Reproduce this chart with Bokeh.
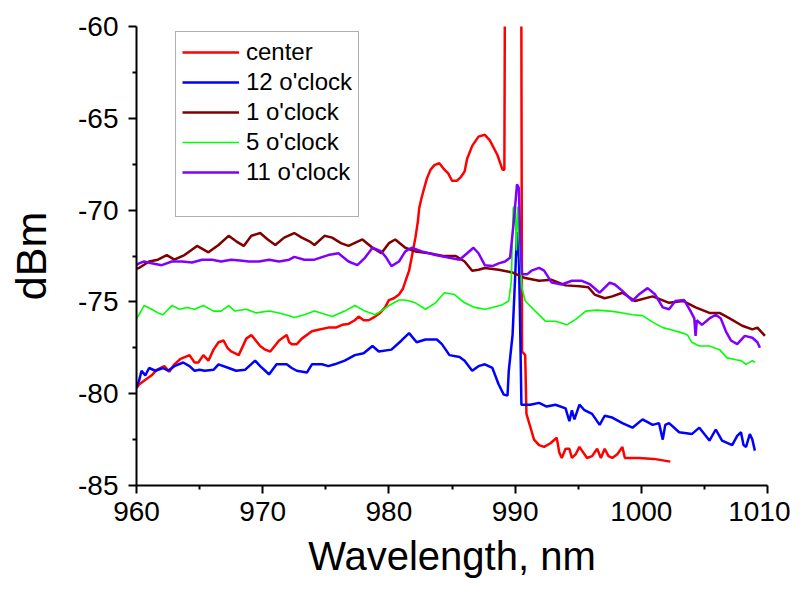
from bokeh.plotting import figure
from bokeh.models import Range1d, Legend, LegendItem, FixedTicker, PrintfTickFormatter
from bokeh.embed import file_html
from bokeh.resources import INLINE

# ---------------- data ----------------
center_x = [960.0, 960.2, 960.6, 961.2, 961.6, 962.2, 962.6, 963.0, 963.5, 964.2, 964.6, 964.9,
            965.3, 965.7, 966.1, 966.5, 966.9, 967.2, 967.5, 968.1, 968.7, 969.1, 969.8, 970.2,
            970.6, 971.3, 971.9, 972.1, 972.3, 972.7, 973.1, 973.9, 974.5, 975.2, 975.8, 976.3,
            976.8, 977.3, 977.6, 978.0, 978.4, 978.9, 979.3, 979.7, 980.0, 980.4, 980.8, 981.1,
            981.3, 981.6, 981.8, 982.1, 982.3, 982.4, 982.6, 983.0, 983.3, 983.6, 984.0, 984.4,
            984.7, 985.0, 985.4, 985.7, 986.0, 986.2, 986.6, 987.1, 987.6, 988.0, 988.6, 989.0,
            989.15, 989.25, 990.45, 990.55, 990.8, 990.9, 991.2, 991.5, 991.9, 992.3, 992.8, 993.3,
            993.5, 993.7, 994.0, 994.3, 994.5, 994.8, 995.1, 995.3, 995.7, 996.1, 996.5, 996.8,
            997.1, 997.4, 997.7, 998.1, 998.5, 998.7, 999.8, 1001.0, 1002.3]
center_y = [-79.7, -79.5, -79.3, -79.0, -78.7, -78.5, -78.8, -78.4, -78.1, -77.9, -78.3, -78.3,
            -77.9, -78.2, -77.6, -77.2, -77.1, -77.5, -77.7, -77.9, -77.0, -76.8, -77.4, -77.6,
            -77.7, -77.1, -76.8, -77.2, -77.3, -77.3, -77.0, -76.6, -76.5, -76.4, -76.4, -76.25,
            -76.2, -76.0, -75.8, -76.0, -76.0, -75.8, -75.6, -75.3, -74.9, -74.8, -74.6, -74.3,
            -73.9, -73.3, -72.6, -71.5, -70.6, -69.9, -69.3, -68.3, -67.8, -67.55, -67.45, -67.8,
            -68.0, -68.4, -68.4, -68.2, -67.9, -67.2, -66.5, -66.0, -65.9, -66.2, -67.0, -67.8,
            -67.8, -45.0, -45.0, -77.7, -77.9, -81.1, -81.8, -82.5, -82.8, -82.9, -82.7, -82.4,
            -83.2, -83.5, -83.0, -83.0, -83.5, -83.3, -82.9, -83.1, -83.5, -83.4, -83.0, -83.5,
            -83.0, -83.4, -83.5, -83.3, -82.9, -83.5, -83.5, -83.55, -83.7]

blue_x = [960.0, 960.2, 960.4, 960.7, 961.0, 961.5, 962.1, 962.5, 963.0, 963.7, 964.2, 964.6,
          965.0, 965.4, 966.1, 966.5, 967.3, 967.9, 968.6, 969.4, 969.8, 970.2, 970.5, 971.1,
          971.9, 972.3, 972.7, 973.5, 973.9, 974.7, 975.2, 975.7, 976.5, 977.3, 978.0, 978.7,
          979.2, 980.2, 981.0, 981.6, 982.2, 982.9, 983.8, 984.2, 984.8, 985.6, 986.0, 986.6,
          987.1, 987.6, 988.2, 988.7, 989.1, 989.4, 989.5, 989.8, 990.0, 990.15, 990.3, 990.4,
          990.5, 991.2, 991.9, 992.5, 993.2, 994.0, 994.3, 994.5, 994.7, 995.1, 995.5, 996.1,
          996.7, 997.1, 997.7, 998.5, 999.3, 1000.1, 1000.9, 1001.4, 1001.7, 1001.9, 1002.2, 1003.0,
          1004.0, 1004.6, 1005.4, 1005.9, 1006.4, 1007.2, 1007.6, 1007.9, 1008.1, 1008.3, 1008.6,
          1008.8, 1009.0]
blue_y = [-79.6, -79.3, -78.75, -79.0, -78.6, -78.75, -78.6, -78.75, -78.5, -78.3, -78.5, -78.75,
          -78.7, -78.75, -78.7, -78.4, -78.6, -78.75, -78.7, -78.2, -78.5, -78.75, -78.95, -78.4,
          -78.4, -78.6, -78.75, -78.85, -78.4, -78.4, -78.5, -78.4, -78.2, -77.9, -77.8, -77.4,
          -77.7, -77.6, -77.1, -76.7, -77.2, -77.05, -77.05, -77.3, -77.9, -78.0, -78.2, -78.75,
          -78.5, -78.4, -78.6, -79.5, -80.05, -80.1, -78.75, -76.8, -73.7, -71.2, -72.6, -76.25,
          -80.6, -80.6, -80.5, -80.7, -80.6, -80.8, -81.5, -80.9, -81.4, -80.6, -80.9, -81.1,
          -81.7, -81.2, -81.3, -81.6, -81.85, -81.4, -81.7, -81.6, -82.5, -81.7, -81.6, -82.1,
          -82.2, -81.85, -82.55, -81.95, -82.55, -82.8, -82.3, -82.1, -82.8, -82.9, -82.2,
          -82.5, -83.1]

brown_x = [960.0, 960.2, 961.0, 961.7, 962.4, 963.0, 963.8, 964.8, 965.7, 966.5, 967.3, 967.9,
           968.5, 969.1, 969.8, 970.4, 971.0, 971.7, 972.5, 973.1, 973.7, 974.1, 974.9, 975.5,
           976.2, 976.8, 977.9, 978.7, 979.4, 980.0, 980.5, 981.3, 982.1, 983.2, 984.3, 985.3,
           986.0, 986.6, 987.1, 987.6, 988.7, 989.8, 990.8, 991.9, 992.9, 994.0, 995.1, 995.8,
           996.3, 997.1, 997.7, 998.5, 999.5, 1000.9, 1002.2, 1003.3, 1004.3, 1005.4, 1006.2,
           1007.0, 1008.0, 1008.8, 1009.2, 1009.8]
brown_y = [-73.2, -73.15, -72.8, -72.7, -72.45, -72.7, -72.45, -71.95, -72.3, -71.9, -71.4, -71.7,
           -71.95, -71.4, -71.25, -71.6, -71.9, -71.5, -71.25, -71.5, -71.7, -71.9, -71.4, -71.5,
           -71.8, -71.95, -71.6, -72.05, -72.35, -71.8, -71.6, -72.05, -72.25, -72.35, -72.5, -72.5,
           -72.8, -73.3, -73.25, -73.15, -73.25, -73.4, -73.7, -73.85, -73.8, -74.1, -74.15, -74.2,
           -74.6, -74.8, -74.7, -74.5, -74.95, -74.7, -75.05, -74.95, -75.3, -75.6, -75.6,
           -75.9, -76.3, -76.5, -76.4, -76.85]

green_x = [960.0, 960.2, 960.6, 961.2, 961.7, 962.1, 962.8, 963.4, 964.0, 964.6, 965.3, 966.1,
           966.7, 967.3, 967.8, 968.7, 969.5, 970.5, 971.3, 972.1, 972.5, 973.3, 974.1, 975.5,
           976.5, 977.3, 978.1, 978.9, 979.6, 980.0, 980.8, 981.3, 982.1, 982.9, 983.7, 984.4,
           985.2, 986.0, 986.8, 987.6, 988.2, 989.0, 989.5, 989.7, 989.85, 990.0, 990.1, 990.2,
           990.35, 990.55, 990.8, 991.6, 992.4, 993.2, 994.1, 994.8, 995.6, 996.5, 997.5, 998.5,
           999.3, 1000.1, 1000.9, 1001.7, 1002.3, 1003.3, 1003.65, 1004.0, 1004.6, 1005.4, 1006.2,
           1006.8, 1007.5, 1007.9, 1008.3, 1008.8, 1009.0]
green_y = [-75.9, -75.7, -75.2, -75.4, -75.6, -75.7, -75.2, -75.4, -75.3, -75.4, -75.2, -75.5,
           -75.5, -75.2, -75.5, -75.4, -75.6, -75.5, -75.6, -75.75, -75.85, -75.7, -75.5, -75.8,
           -75.5, -75.2, -75.5, -75.7, -75.4, -75.2, -74.9, -74.9, -75.05, -75.4, -75.05, -74.5,
           -74.6, -75.05, -75.3, -75.4, -75.3, -75.15, -74.95, -73.85, -69.9, -69.7, -72.2, -69.8,
           -72.0, -74.25, -74.95, -75.5, -76.05, -76.05, -76.25, -75.95, -75.5, -75.45, -75.5, -75.6,
           -75.7, -75.75, -76.1, -76.4, -76.5, -76.7, -76.8, -77.2, -77.4, -77.4, -77.6,
           -78.05, -78.15, -78.2, -78.4, -78.2, -78.3]

purple_x = [960.0, 960.2, 960.6, 961.2, 962.0, 962.8, 963.6, 964.4, 965.2, 966.0, 966.7, 967.5,
            968.2, 968.9, 969.7, 970.5, 971.3, 972.1, 972.5, 973.3, 974.1, 975.2, 976.0, 976.8,
            977.5, 978.1, 978.7, 979.4, 979.8, 980.2, 980.8, 981.3, 981.8, 982.6, 983.7, 984.8,
            985.6, 986.2, 986.7, 987.1, 987.6, 988.2, 988.7, 989.2, 989.6, 989.9, 990.15, 990.3,
            990.4, 990.55, 990.95, 991.3, 991.9, 992.3, 992.9, 993.7, 994.5, 995.3, 995.95, 996.7,
            997.5, 997.9, 998.5, 999.3, 999.8, 1000.5, 1001.1, 1001.7, 1002.2, 1002.7, 1003.4,
            1003.9, 1004.2, 1004.3, 1004.4, 1004.8, 1005.4, 1005.9, 1006.3, 1006.7, 1007.1, 1007.6,
            1008.2, 1008.8, 1009.2, 1009.4]
purple_y = [-73.0, -72.9, -72.8, -72.9, -73.0, -72.8, -72.8, -72.85, -72.7, -72.7, -72.8, -72.7,
            -72.75, -72.8, -72.8, -72.7, -72.8, -72.7, -72.55, -72.7, -72.7, -72.45, -72.35, -72.8,
            -73.0, -72.6, -72.05, -72.25, -72.6, -73.05, -72.8, -72.25, -72.05, -72.25, -72.45, -72.6,
            -72.7, -72.35, -72.05, -72.35, -73.0, -73.05, -72.9, -72.8, -72.6, -70.6, -68.6, -68.8,
            -71.5, -73.5, -73.5, -73.3, -73.15, -73.3, -73.95, -74.05, -73.85, -73.85, -74.05, -74.5,
            -73.95, -74.05, -74.4, -74.95, -74.6, -74.25, -74.6, -75.3, -75.4, -74.95, -74.9,
            -75.5, -75.9, -76.85, -76.0, -76.25, -75.9, -75.7, -75.9, -76.6, -77.1, -77.3,
            -76.85, -76.95, -77.2, -77.5]

series_labels = ["center", "12 o'clock", "1 o'clock", "5 o'clock", "11 o'clock"]
x_ticks = [960, 970, 980, 990, 1000, 1010]
y_ticks = [-85, -80, -75, -70, -65, -60]

FONT = "Liberation Sans"

p = figure(width=790, height=590, output_backend="svg", toolbar_location=None,
           x_range=Range1d(960, 1010), y_range=Range1d(-85, -60),
           min_border_left=136, min_border_right=23, min_border_top=26, min_border_bottom=105)
p.outline_line_color = None
p.grid.visible = False
p.background_fill_color = "white"
p.border_fill_color = "white"

for ax in (p.xaxis[0], p.yaxis[0]):
    ax.axis_line_width = 2
    ax.major_tick_line_width = 2
    ax.minor_tick_line_width = 2
    ax.major_tick_in = 0
    ax.minor_tick_in = 0
    ax.major_tick_out = 8
    ax.minor_tick_out = 4
    ax.major_label_text_font = FONT
    ax.major_label_text_font_size = "28px"
    ax.major_label_text_color = "black"
    ax.axis_label_text_font = FONT
    ax.axis_label_text_font_style = "normal"
    ax.axis_label_text_color = "black"
    ax.axis_line_color = "black"
    ax.major_tick_line_color = "black"
    ax.minor_tick_line_color = "black"
    ax.formatter = PrintfTickFormatter(format="%d")

p.xaxis.ticker = FixedTicker(ticks=x_ticks, minor_ticks=[965, 975, 985, 995, 1005])
p.yaxis.ticker = FixedTicker(ticks=y_ticks, minor_ticks=[-82.5, -77.5, -72.5, -67.5, -62.5])
p.xaxis.axis_label = "Wavelength, nm"
p.yaxis.axis_label = "dBm"
p.xaxis.axis_label_text_font_size = "40px"
p.yaxis.axis_label_text_font_size = "43px"
p.xaxis.major_label_standoff = 8
p.yaxis.major_label_standoff = 10
p.xaxis.axis_label_standoff = 10
p.yaxis.axis_label_standoff = 20

r_center = p.line(center_x, center_y, line_color="#FF0000", line_width=2.5)
r_blue = p.line(blue_x, blue_y, line_color="#0000FF", line_width=2.5)
r_brown = p.line(brown_x, brown_y, line_color="#800000", line_width=2.5)
r_green = p.line(green_x, green_y, line_color="#00FF00", line_width=1.6)
r_purple = p.line(purple_x, purple_y, line_color="#8000FF", line_width=2.5)
r_blank = p.line([960, 960], [-100, -100], line_alpha=0)

items = [LegendItem(label=lab, renderers=[r]) for lab, r in
         zip(series_labels, [r_center, r_blue, r_brown, r_green, r_purple])]
items.append(LegendItem(label=" ", renderers=[r_blank]))
legend = Legend(items=items, location=(39, 268), orientation="vertical",
                label_text_font=FONT, label_text_font_size="24px", label_text_color="black",
                glyph_width=57, glyph_height=22, label_height=22, label_standoff=7,
                spacing=2, padding=6, margin=0,
                border_line_color="#606060", border_line_width=1,
                background_fill_color="white", background_fill_alpha=1.0)
p.add_layout(legend, "center")

open("out.html", "w").write(file_html(p, INLINE))
